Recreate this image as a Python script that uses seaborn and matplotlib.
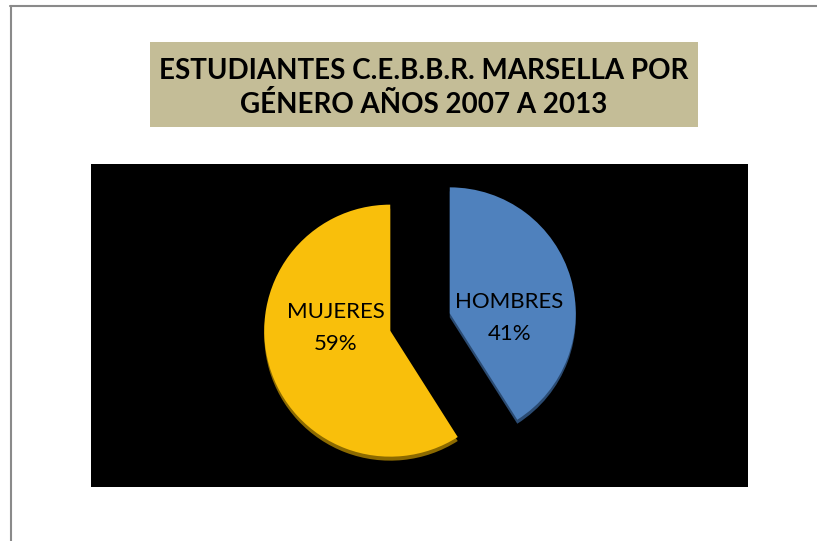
import matplotlib.pyplot as plt
import matplotlib.patches as mpatches
from matplotlib.lines import Line2D
import seaborn as sns

categories = ["HOMBRES", "MUJERES"]
shares = [41, 59]
slice_colors = ["#4F81BD", "#F9BF0B"]
rim_colors = ["#2B4B72", "#8C6A00"]
title = "ESTUDIANTES C.E.B.B.R. MARSELLA POR\nGÉNERO AÑOS 2007 A 2013"

sns.set_theme(style="white")
plt.rcParams["font.family"] = ["Lato", "DejaVu Sans"]

W, H = 817, 541
fig = plt.figure(figsize=(W / 100, H / 100), dpi=100)
fig.patch.set_facecolor("white")

# outer frame (left + top only)
fig.add_artist(Line2D([10.5 / W, 10.5 / W], [0, 1 - 5.5 / H], color="#8a8a8a", lw=1.5))
fig.add_artist(Line2D([10 / W, 1], [1 - 5.5 / H, 1 - 5.5 / H], color="#8a8a8a", lw=1.5))

# title box
fig.add_artist(mpatches.Rectangle((150 / W, 1 - 127 / H), 548 / W, 85 / H,
                                  transform=fig.transFigure, color="#C4BD97", lw=0))
fig.text(424 / W, 1 - 88 / H, title, ha="center", va="center", fontsize=20,
         fontweight="bold", color="black", linespacing=1.3)

# black plot area, units = pixels
ax = fig.add_axes([91 / W, 54 / H, 657 / W, 323 / H])
ax.set_facecolor("black")

center = (329, 165)
r = 126
explode = [31, 31]  # pie explode is in data units here (pixels)

# darker rim under the slices for the 3d look
ax.pie(shares, colors=rim_colors, startangle=90, counterclock=False, explode=explode,
       radius=r, center=(center[0], center[1] - 4), frame=True,
       wedgeprops=dict(linewidth=0))

label_iter = iter(categories)
wedges, _, autotexts = ax.pie(
    shares, colors=slice_colors, startangle=90, counterclock=False, explode=explode,
    radius=r, center=center, frame=True, pctdistance=0.45,
    autopct=lambda p: f"{next(label_iter)}\n{p:.0f}%",
    wedgeprops=dict(linewidth=0),
    textprops=dict(fontsize=16, color="black", linespacing=1.75))

# Excel places the labels a bit off the mid-angle line
nudges = [(5, -20), (0, 18)]
for t, (dx, dy) in zip(autotexts, nudges):
    x, y = t.get_position()
    t.set_position((x + dx, y + dy))

ax.set_xlim(0, 657)
ax.set_ylim(0, 323)
ax.set_aspect("auto")
ax.set_xticks([])
ax.set_yticks([])
for s in ax.spines.values():
    s.set_visible(False)

fig.savefig("out.png", dpi=100, facecolor="white")
